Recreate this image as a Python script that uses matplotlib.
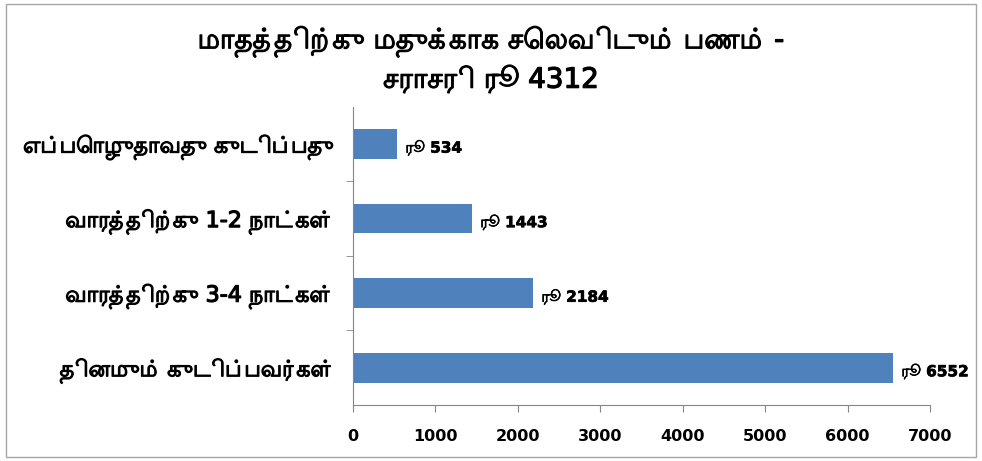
import matplotlib
matplotlib.use('Agg')
import matplotlib.pyplot as plt
import matplotlib.patheffects as pe
from matplotlib import font_manager
from matplotlib.font_manager import FontProperties
from matplotlib.ft2font import FT2Font
from matplotlib.patches import Rectangle

# Data
categories = ['தினமும் குடிப்பவர்கள்', 'வாரத்திற்கு 3-4 நாட்கள்',
              'வாரத்திற்கு 1-2 நாட்கள்', 'எப்பொழுதாவது குடிப்பது']
values = [6552, 2184, 1443, 534]
title = 'மாதத்திற்கு மதுக்காக செலவிடும் பணம் -\nசராசரி ரூ 4312'
xticks = [0, 1000, 2000, 3000, 4000, 5000, 6000, 7000]

# Tamil characters we need
needed = set(c for c in ''.join(categories) + title + 'ரூ' if 0x0B80 <= ord(c) <= 0x0BFF)


def covers(path):
    try:
        ft = FT2Font(path)
        return all(ft.get_char_index(ord(c)) for c in needed)
    except Exception:
        return False


def score(f):
    s = 0
    if 'Serif' in f.name or 'Serif' in f.fname:
        s -= 10
    if 'Sans' in f.name or 'Lohit' in f.name or 'Latha' in f.name:
        s += 5
    return s


names = []
for f in sorted(font_manager.fontManager.ttflist, key=score, reverse=True):
    if f.name not in names and covers(f.fname):
        names.append(f.name)

# keep only families whose bold lookup still resolves to a Tamil capable file
tamil_font = None
for n in names:
    try:
        p = font_manager.findfont(FontProperties(family=n, weight='bold'),
                                  fallback_to_default=False)
    except Exception:
        continue
    if covers(p):
        tamil_font = n
        break

families = ['DejaVu Sans'] + ([tamil_font] if tamil_font else [])
plt.rcParams['font.family'] = families

# fake bold for the Tamil text (no bold face installed)
thick = [pe.withStroke(linewidth=0.9, foreground='black')]

fig = plt.figure(figsize=(9.82, 4.61), dpi=100)
ax = fig.add_axes([0.3595, 0.1215, 0.5875, 0.647])

# Outer chart border
fig.patches.append(Rectangle((0.006, 0.008), 0.988, 0.984, transform=fig.transFigure,
                             fill=False, edgecolor='#a6a6a6', linewidth=1))

ypos = range(len(categories))
ax.barh(ypos, values, height=0.4, color='#4F81BD')

for y, v in zip(ypos, values):
    ax.annotate('ரூ ' + str(v), (v, y), xytext=(6, -3), textcoords='offset points',
                ha='left', va='center', fontsize=11, fontweight='bold',
                path_effects=[pe.withStroke(linewidth=0.5, foreground='black')])

ax.set_xlim(0, 7000)
ax.set_ylim(-0.5, len(categories) - 0.5)
ax.set_xticks(xticks)
ax.set_xticklabels([str(t) for t in xticks], fontsize=11.5, fontweight='bold')
ax.set_yticks(list(ypos))
ax.set_yticklabels(categories, fontsize=16, path_effects=thick)
ax.set_yticks([0.5, 1.5, 2.5], minor=True)
ax.tick_params(axis='y', which='major', length=0, pad=14)
ax.tick_params(axis='y', which='minor', length=5, color='#868686')
ax.tick_params(axis='x', length=5, color='#868686', pad=12)

for s in ['top', 'right']:
    ax.spines[s].set_visible(False)
for s in ['left', 'bottom']:
    ax.spines[s].set_color('#868686')

fig.text(0.5, 0.87, title, ha='center', va='center', fontsize=20,
         linespacing=1.35, path_effects=thick)

fig.savefig('out.png', dpi=100)
